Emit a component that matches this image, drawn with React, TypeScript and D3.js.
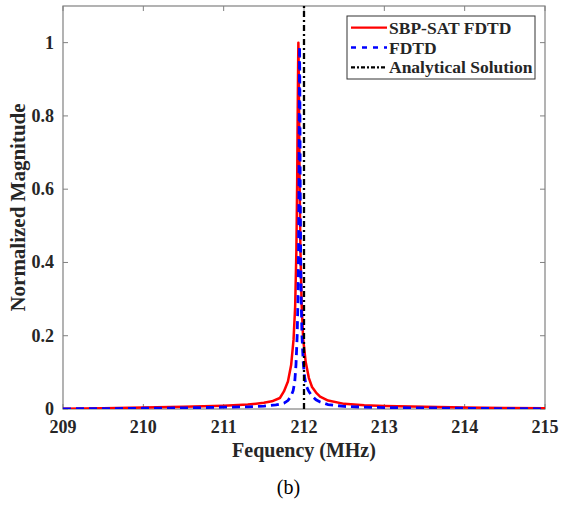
import React from "react";
import * as d3 from "d3";

const xTicks = [209, 210, 211, 212, 213, 214, 215];
const yTicks = [0, 0.2, 0.4, 0.6, 0.8, 1];
const yTickLabels = ["0", "0.2", "0.4", "0.6", "0.8", "1"];

const redFreq = [209, 209.5, 210, 210.5, 211, 211.3, 211.5, 211.6, 211.7, 211.75, 211.8, 211.84, 211.87, 211.89, 211.905, 211.915, 211.922, 211.927, 211.93, 211.933, 211.938, 211.945, 211.955, 211.97, 211.99, 212.02, 212.06, 212.1, 212.15, 212.2, 212.3, 212.5, 212.75, 213, 213.5, 214, 214.5, 215];
const redMag = [0.001, 0.002, 0.004, 0.006, 0.009, 0.012, 0.017, 0.021, 0.03, 0.048, 0.075, 0.12, 0.19, 0.28, 0.43, 0.62, 0.82, 0.94, 1.0, 0.95, 0.83, 0.63, 0.44, 0.29, 0.19, 0.13, 0.085, 0.06, 0.045, 0.034, 0.023, 0.014, 0.01, 0.008, 0.006, 0.004, 0.003, 0.002];

const blueFreq = [209, 209.5, 210, 210.5, 211, 211.3, 211.5, 211.65, 211.75, 211.8, 211.835, 211.865, 211.885, 211.9, 211.915, 211.925, 211.932, 211.937, 211.941, 211.945, 211.949, 211.953, 211.958, 211.965, 211.975, 211.99, 212.005, 212.025, 212.055, 212.095, 212.15, 212.2, 212.3, 212.5, 212.75, 213, 213.5, 214, 214.5, 215];
const blueMag = [0.0005, 0.001, 0.002, 0.003, 0.005, 0.006, 0.008, 0.011, 0.016, 0.023, 0.034, 0.05, 0.075, 0.12, 0.2, 0.3, 0.43, 0.6, 0.84, 0.99, 0.84, 0.6, 0.43, 0.3, 0.2, 0.13, 0.09, 0.065, 0.05, 0.036, 0.025, 0.019, 0.012, 0.007, 0.005, 0.004, 0.003, 0.002, 0.001, 0.0005];

const analyticFreq = [212, 212];
const analyticMag = [0, 1.1];

const legendLabels = ["SBP-SAT FDTD", "FDTD", "Analytical Solution"];

const W = 561, H = 505;
const M = { left: 63, right: 545, top: 6, bottom: 409 };
const FONT = "Liberation Serif";
const AX = "#808080";
const TXT = "#262626";

export default function App() {
  const x = d3.scaleLinear().domain([209, 215]).range([M.left, M.right]);
  const y = d3.scaleLinear().domain([0, 1.1]).range([M.bottom, M.top]);
  const line = d3
    .line<[number, number]>()
    .x((d) => x(d[0]))
    .y((d) => y(d[1]));
  const red = line(redFreq.map((f, i) => [f, redMag[i]] as [number, number]))!;
  const blue = line(blueFreq.map((f, i) => [f, blueMag[i]] as [number, number]))!;
  const black = line(analyticFreq.map((f, i) => [f, analyticMag[i]] as [number, number]))!;

  const styles = [
    { stroke: "#ff0000", dash: undefined as string | undefined, lg: undefined as string | undefined },
    { stroke: "#0000ff", dash: "8,5", lg: "5,6" },
    { stroke: "#000000", dash: "6,3,2,3", lg: "4,2,2,2" },
  ];

  const lg = { x: 347, y: 16, w: 188, h: 63 };

  return (
    <svg width={W} height={H} style={{ position: "absolute", left: 0, top: 0 }}>
      <rect x={0} y={0} width={W} height={H} fill="#fff" />
      <defs>
        <clipPath id="plotclip">
          <rect x={M.left} y={M.top} width={M.right - M.left} height={M.bottom - M.top} />
        </clipPath>
      </defs>
      <rect x={M.left} y={M.top} width={M.right - M.left} height={M.bottom - M.top} fill="none" stroke={AX} strokeWidth={1.2} />
      {xTicks.map((t) => (
        <g key={"xt" + t}>
          <line x1={x(t)} x2={x(t)} y1={M.bottom} y2={M.bottom - 5} stroke={AX} />
          <line x1={x(t)} x2={x(t)} y1={M.top} y2={M.top + 5} stroke={AX} />
          <text x={x(t)} y={433} textAnchor="middle" fontFamily={FONT} fontWeight="bold" fontSize={18} fill={TXT}>
            {t}
          </text>
        </g>
      ))}
      {yTicks.map((t, i) => (
        <g key={"yt" + t}>
          <line x1={M.left} x2={M.left + 5} y1={y(t)} y2={y(t)} stroke={AX} />
          <line x1={M.right} x2={M.right - 5} y1={y(t)} y2={y(t)} stroke={AX} />
          <text x={54} y={y(t) + 6} textAnchor="end" fontFamily={FONT} fontWeight="bold" fontSize={18} fill={TXT}>
            {yTickLabels[i]}
          </text>
        </g>
      ))}
      <g clipPath="url(#plotclip)">
        <path d={red} fill="none" stroke={styles[0].stroke} strokeWidth={2.5} strokeLinejoin="round" />
        <path d={blue} fill="none" stroke={styles[1].stroke} strokeWidth={2.8} strokeDasharray={styles[1].dash} />
        <path d={black} fill="none" stroke={styles[2].stroke} strokeWidth={2.3} strokeDasharray={styles[2].dash} />
      </g>
      <text x={(M.left + M.right) / 2} y={457} textAnchor="middle" fontFamily={FONT} fontWeight="bold" fontSize={20} fill={TXT}>
        Fequency (MHz)
      </text>
      <text
        transform={`translate(25,${(M.top + M.bottom) / 2}) rotate(-90)`}
        textAnchor="middle"
        fontFamily={FONT}
        fontWeight="bold"
        fontSize={21}
        fill={TXT}
      >
        Normalized Magnitude
      </text>
      <text x={288.5} y={494} textAnchor="middle" fontFamily={FONT} fontSize={20} fill="#000">
        (b)
      </text>
      <rect x={lg.x} y={lg.y} width={lg.w} height={lg.h} fill="#fff" stroke="#333" strokeWidth={1} />
      {legendLabels.map((lab, i) => {
        const cy = lg.y + 11.7 + i * 19.8;
        return (
          <g key={lab}>
            <line x1={lg.x + 4} x2={lg.x + 40} y1={cy} y2={cy} stroke={styles[i].stroke} strokeWidth={2.3} strokeDasharray={styles[i].lg} />
            <text x={lg.x + 42} y={cy + 6} fontFamily={FONT} fontWeight="bold" fontSize={17.5} fill={TXT}>
              {lab}
            </text>
          </g>
        );
      })}
    </svg>
  );
}
